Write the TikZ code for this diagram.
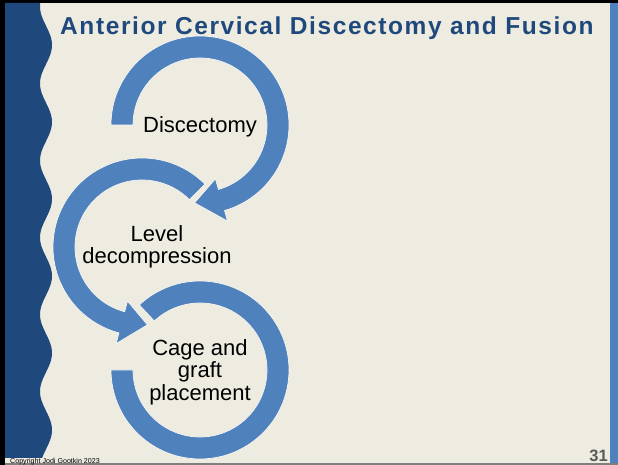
\documentclass[tikz,border=0pt]{standalone}
\usepackage{fontspec}
\setmainfont{Liberation Sans}
\newfontfamily\titlefont[LetterSpace=6.5]{Liberation Sans}
\usetikzlibrary{calc}
\definecolor{paper}{RGB}{238,236,225}
\definecolor{navy}{RGB}{31,73,125}
\definecolor{accent}{RGB}{79,129,189}
\definecolor{pagenum}{RGB}{89,89,89}

\begin{document}
\begin{tikzpicture}[x=1pt, y=1pt,
    ring/.style={fill=accent, draw=white!60!paper, line width=0.7pt},
    stage/.style={font=\fontsize{22}{22.5}\selectfont, align=center, text=black, inner sep=0pt},
    band/.style={fill=navy}
]
    % slide background and frame
    \fill[black] (0,0) rectangle (618,465);
    \fill[paper] (5,2) rectangle (610,462);
    \fill[gray] (5,0) rectangle (618,2);
    \fill[accent] (610,2) rectangle (618,462);
    \useasboundingbox (0,0) rectangle (618,465);

    % wavy left band
    \fill[band] (5,462) -- plot[domain=462:7, samples=200, variable=\t] ({46+6*cos((\t-420)*4.675)}, \t) -- (5,7) -- cycle;

    \node[anchor=base west, font=\titlefont\bfseries\fontsize{24.5}{24.5}\selectfont, text=navy, inner sep=0pt] (title) at (60,430) {Anterior Cervical Discectomy and Fusion};

    % centres of the three circular arrows
    \coordinate (topc) at (200,340);
    \coordinate (midc) at (142,218);
    \coordinate (botc) at (200,95);

    % first arrow, clockwise
    \filldraw[ring] ($(topc)+(180:89)$) arc[start angle=180, end angle=-74, radius=89]
        -- ($(topc)+(-74:100)$) -- ($(topc)+(-94:78)$) -- ($(topc)+(-74:56)$)
        -- ($(topc)+(-74:67)$) arc[start angle=-74, end angle=180, radius=67] -- cycle;
    % second arrow, anticlockwise
    \filldraw[ring] ($(midc)+(45:89)$) arc[start angle=45, end angle=255, radius=89]
        -- ($(midc)+(255:100)$) -- ($(midc)+(274:78)$) -- ($(midc)+(255:56)$)
        -- ($(midc)+(255:67)$) arc[start angle=255, end angle=45, radius=67] -- cycle;
    % third ring, no head
    \filldraw[ring] ($(botc)+(133:89)$) arc[start angle=133, end angle=-180, radius=89]
        -- ($(botc)+(180:67)$) arc[start angle=-180, end angle=133, radius=67] -- cycle;

    \node[stage] (disc) at (200,338) {Discectomy};
    \node[stage] (decomp) at (157,218) {Level\\decompression};
    \node[stage] (cage) at (200,93) {Cage and\\graft\\placement};

    % footer
    \node[anchor=base west, font=\fontsize{7.1}{7.1}\selectfont, inner sep=0pt] (copy) at (10,1.5) {Copyright Jodi Gootkin 2023};
    \node[anchor=base east, font=\bfseries\fontsize{16.5}{16.5}\selectfont, text=pagenum, inner sep=0pt] (page) at (608,3) {31};
\end{tikzpicture}
\end{document}
